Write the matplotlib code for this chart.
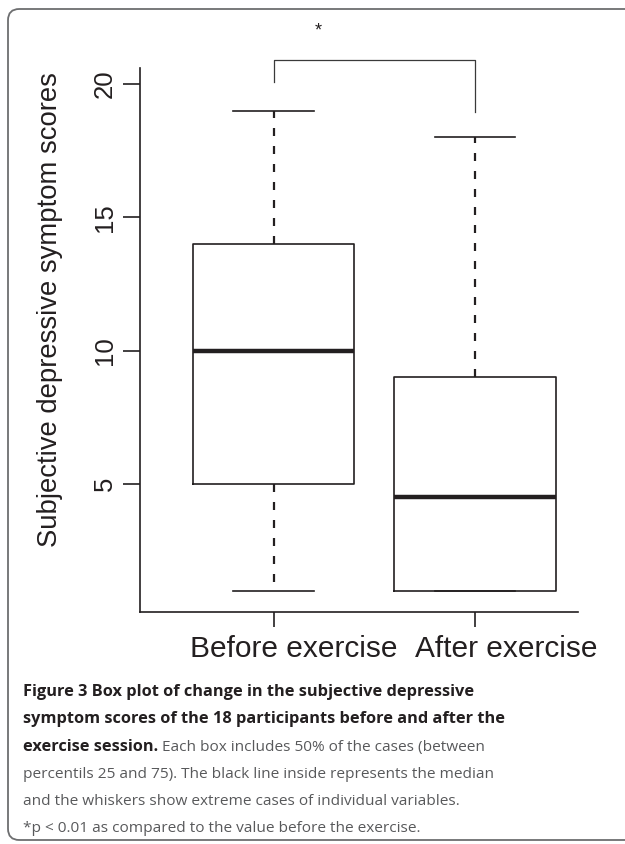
import matplotlib
matplotlib.use("Agg")
import matplotlib.pyplot as plt
from matplotlib.patches import FancyBboxPatch
from matplotlib.transforms import ScaledTranslation

# ---- data ----
groups = ["Before exercise", "After exercise"]
q1 = [5, 1]
medians = [10, 4.5]
q3 = [14, 9]
whisker_low = [1, 1]
whisker_high = [19, 18]
yticks = [5, 10, 15, 20]
ylabel = "Subjective depressive symptom scores"
caption_lines = [
    [("Figure 3 Box plot of change in the subjective depressive", "bold")],
    [("symptom scores of the 18 participants before and after the", "bold")],
    [("exercise session.", "bold"), (" Each box includes 50% of the cases (between", "normal")],
    [("percentils 25 and 75). The black line inside represents the median", "normal")],
    [("and the whiskers show extreme cases of individual variables.", "normal")],
    [("*p < 0.01 as compared to the value before the exercise.", "normal")],
]

W, H = 625, 844
dark = "#231f20"
gray = "#58595b"

plt.rcParams['font.family'] = ['Liberation Sans', 'DejaVu Sans']
fig = plt.figure(figsize=(W / 100, H / 100), dpi=100)
fig.patch.set_facecolor("white")

# frame
frame = FancyBboxPatch((8 / W, 4 / H), (W + 40) / W, (839 - 8) / H,
                       boxstyle="round,pad=0,rounding_size=0.018",
                       transform=fig.transFigure, fill=False,
                       edgecolor="#6d6e70", linewidth=1.3, clip_on=False,
                       mutation_aspect=W / H)
fig.patches.append(frame)

ax = fig.add_axes([140 / W, 1 - 612 / H, (578 - 140) / W, (612 - 68) / H])
positions = [1, 2]
stats = []
for i, g in enumerate(groups):
    stats.append(dict(label=g, q1=q1[i], med=medians[i], q3=q3[i],
                      whislo=whisker_low[i], whishi=whisker_high[i], fliers=[]))
ax.bxp(stats, positions=positions, widths=0.8, capwidths=0.4, showfliers=False,
       boxprops=dict(color=dark, linewidth=1.2),
       medianprops=dict(color=dark, linewidth=3.2, solid_capstyle="butt"),
       whiskerprops=dict(color=dark, linewidth=1.6, linestyle=(0, (3.6, 4.5))),
       capprops=dict(color=dark, linewidth=1.2))

ax.set_xlim(0.3375, 2.511)
ax.set_ylim(0.2, 20.6)
for s in ["top", "right"]:
    ax.spines[s].set_visible(False)
for s in ["left", "bottom"]:
    ax.spines[s].set_color(dark)
    ax.spines[s].set_linewidth(1.2)
ax.set_yticks(yticks)
ax.set_yticklabels([str(v) for v in yticks], rotation=90, va="center",
                   fontsize=18.5, color=dark)
ax.tick_params(axis="y", length=12.5, width=1.2, color=dark, pad=4)
ax.set_xticks(positions)
ax.set_xticklabels([])
ax.tick_params(axis="x", length=11, width=1.2, color=dark)
offsets = [20, 31]
for i, g in enumerate(groups):
    ax.text(positions[i], 0, g, fontsize=21.5, color=dark, ha="center", va="center",
            transform=ax.get_xaxis_transform() + ScaledTranslation(offsets[i] / 100, -37 / 100, fig.dpi_scale_trans))

fig.text(50 / W, 1 - 310 / H, ylabel, rotation=90, fontsize=19.8, color=dark,
         ha="center", va="center")

# significance bracket
ax.plot([1, 1, 2, 2], [20.07, 20.9, 20.9, 18.95], color="#3a3a3a", linewidth=0.9,
        clip_on=False)
ax.text(1.22, 22.0, "*", ha="center", va="center", fontsize=13, color=dark,
        clip_on=False)

# caption
fig.canvas.draw()
renderer = fig.canvas.get_renderer()
y0 = 696
lh = 27.3
for li, parts in enumerate(caption_lines):
    x = 23
    y = y0 + li * lh
    for txt, wt in parts:
        t = fig.text(x / W, 1 - y / H, txt, fontsize=11.8 if wt == "bold" else 11.1,
                     fontweight=wt, color=dark if wt == "bold" else gray,
                     ha="left", va="baseline", family=["Open Sans", "DejaVu Sans"])
        bb = t.get_window_extent(renderer=renderer)
        x = bb.x1

fig.savefig("out.png", dpi=100)
